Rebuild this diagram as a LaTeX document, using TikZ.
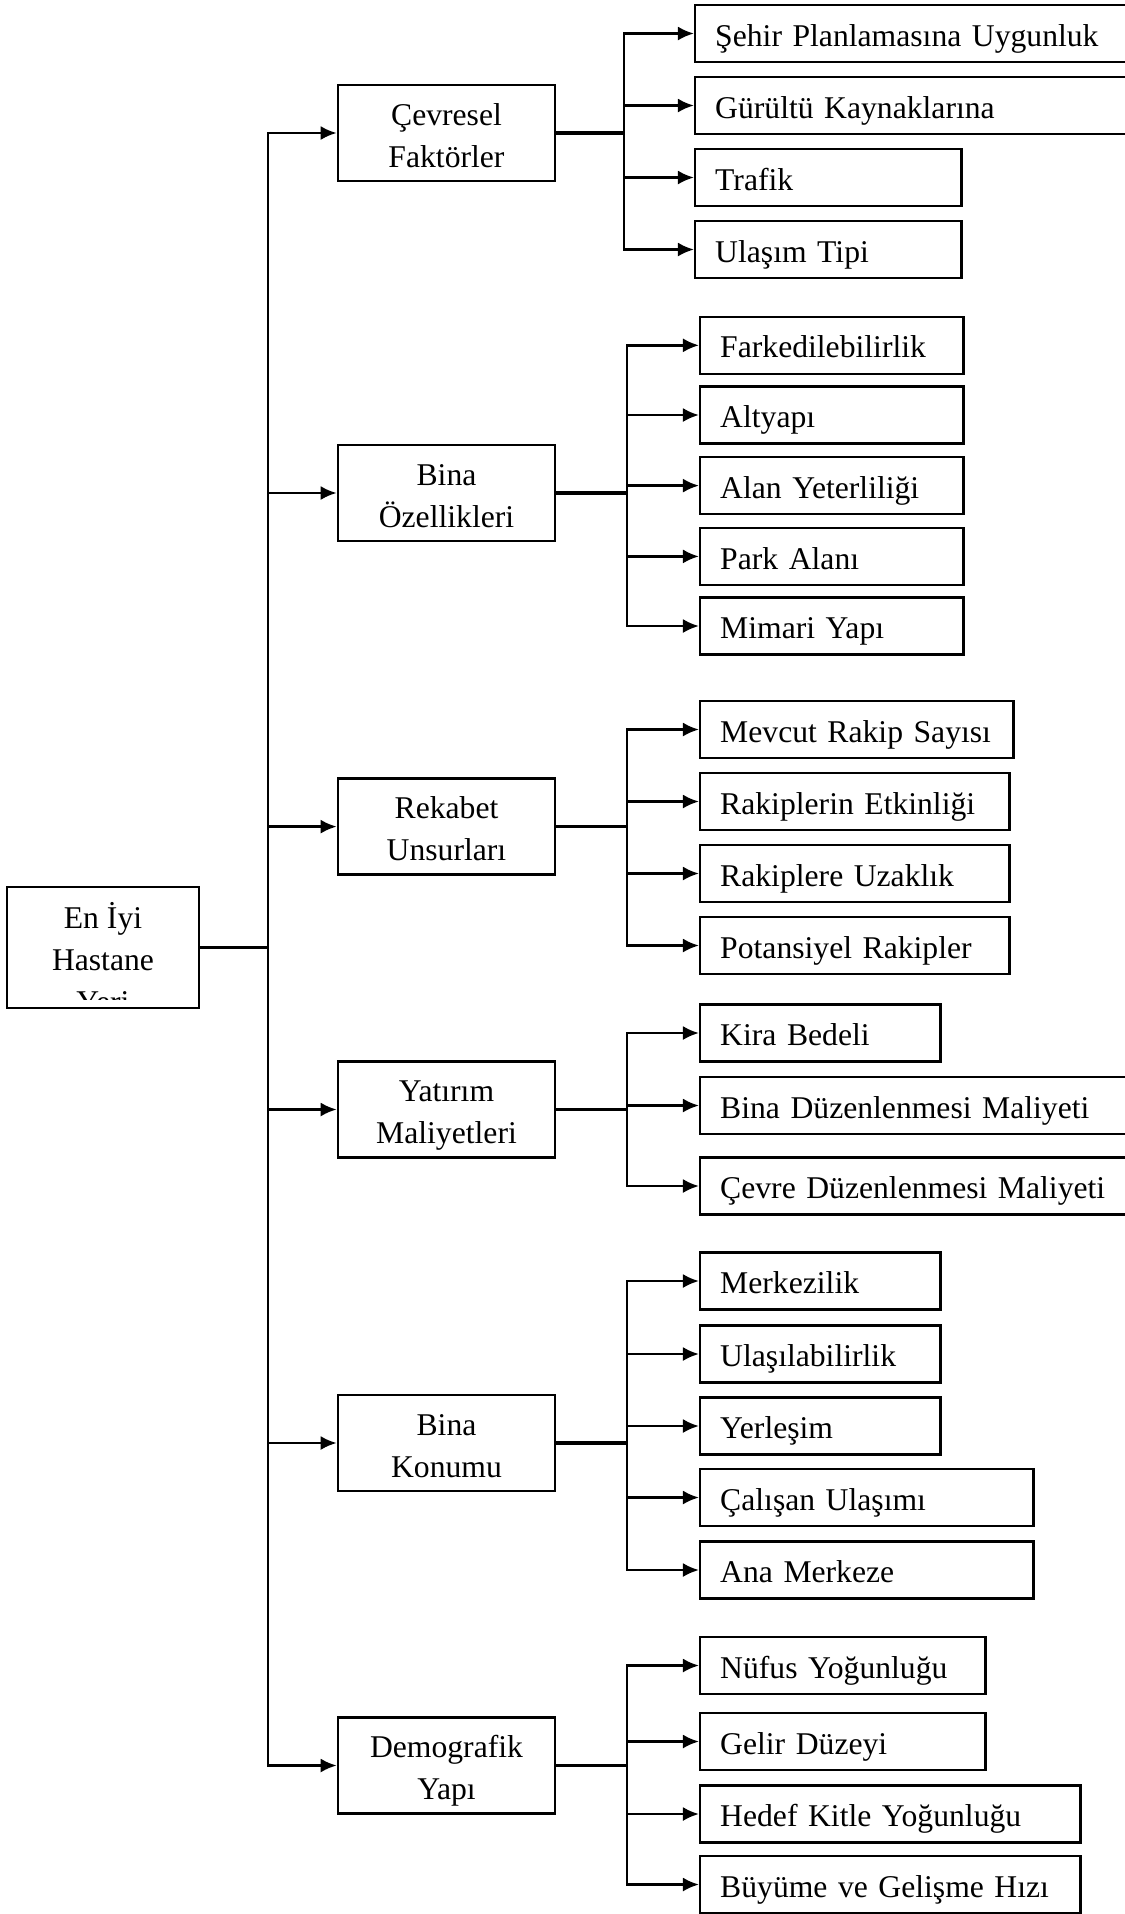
\documentclass[tikz,border=0pt]{standalone}
\usepackage{fontspec}
\setmainfont{Liberation Serif}
\usetikzlibrary{arrows.meta}

\begin{document}
\begin{tikzpicture}[x=0.01cm, y=-0.01cm,
	font=\fontsize{9pt}{11.95pt}\selectfont,
	box/.style={draw, line width=0.7pt},
	factor/.style={box, minimum width=2.17cm, minimum height=0.96cm, align=center, inner sep=0pt, text height=0.68cm, text depth=0pt},
	leaf/.style={box, anchor=west, minimum height=0.57cm, inner xsep=0.2cm, inner ysep=0pt, align=left, text height=0.8em, text depth=0.08em},
	bus/.style={line width=0.75pt, line cap=rect},
	arr/.style={line width=0.75pt, -{Latex[length=1.6mm, width=1.4mm]}}]
	\useasboundingbox (0, 0) rectangle (1125, 1914);

	% root, its third line is cut by the box
	\node (root) [box, minimum width=1.92cm, minimum height=1.21cm] at (103, 947.5) {};
	\begin{scope}
		\clip ([yshift=0.1cm]root.south west) rectangle (root.north east);
		\node (roottext) [anchor=base, inner sep=0pt] at (103, 928) {\begin{tabular}[t]{@{}c@{}}En İyi\\Hastane\\Yeri\end{tabular}};
	\end{scope}

	% factors
	\node (cevresel) [factor] at (446.5, 133) {Çevresel\\Faktörler};
	\node (binaoz) [factor] at (446.5, 493) {Bina\\Özellikleri};
	\node (rekabet) [factor] at (446.5, 826.6) {Rekabet\\Unsurları};
	\node (yatirim) [factor] at (446.5, 1109.5) {Yatırım\\Maliyetleri};
	\node (binakon) [factor] at (446.5, 1443) {Bina\\Konumu};
	\node (demografik) [factor] at (446.5, 1765.5) {Demografik\\Yapı};

	% sub factors
	\node (sehir) [leaf, text width=4.06cm] at (694, 33.5) {Şehir Planlamasına Uygunluk};
	\node (gurultu) [leaf, text width=4.06cm] at (694, 105.5) {Gürültü Kaynaklarına};
	\node (trafik) [leaf, text width=2.26cm] at (694, 177.5) {Trafik};
	\node (ulasimtipi) [leaf, text width=2.26cm] at (694, 249.5) {Ulaşım Tipi};

	\node (fark) [leaf, text width=2.23cm] at (699, 345.3) {Farkedilebilirlik};
	\node (altyapi) [leaf, text width=2.23cm] at (699, 415) {Altyapı};
	\node (alan) [leaf, text width=2.23cm] at (699, 485.6) {Alan Yeterliliği};
	\node (park) [leaf, text width=2.23cm] at (699, 556.4) {Park Alanı};
	\node (mimari) [leaf, text width=2.23cm] at (699, 626) {Mimari Yapı};

	\node (mevcut) [leaf, text width=2.73cm] at (699, 729.5) {Mevcut~Rakip~Sayısı};
	\node (etkinlik) [leaf, text width=2.69cm] at (699, 801.5) {Rakiplerin Etkinliği};
	\node (uzaklik) [leaf, text width=2.69cm] at (699, 873.5) {Rakiplere Uzaklık};
	\node (potansiyel) [leaf, text width=2.69cm] at (699, 945.5) {Potansiyel Rakipler};

	\node (kira) [leaf, text width=2.00cm] at (699, 1033) {Kira Bedeli};
	\node (binaduz) [leaf, text width=4.01cm] at (699, 1105.5) {Bina Düzenlenmesi Maliyeti};
	\node (cevreduz) [leaf, text width=4.01cm] at (699, 1186) {Çevre Düzenlenmesi Maliyeti};

	\node (merkezilik) [leaf, text width=2.00cm] at (699, 1281) {Merkezilik};
	\node (ulasilabilir) [leaf, text width=2.00cm] at (699, 1354) {Ulaşılabilirlik};
	\node (yerlesim) [leaf, text width=2.00cm] at (699, 1426) {Yerleşim};
	\node (calisan) [leaf, text width=2.93cm] at (699, 1497.5) {Çalışan Ulaşımı};
	\node (anamerkez) [leaf, text width=2.93cm] at (699, 1570) {Ana Merkeze};

	\node (nufus) [leaf, text width=2.45cm] at (699, 1665.5) {Nüfus Yoğunluğu};
	\node (gelir) [leaf, text width=2.45cm] at (699, 1741.5) {Gelir Düzeyi};
	\node (hedef) [leaf, text width=3.40cm] at (699, 1814) {Hedef Kitle Yoğunluğu};
	\node (buyume) [leaf, text width=3.40cm] at (699, 1884.5) {Büyüme ve Gelişme Hızı};

	% root to factors
	\coordinate (mainbus) at (268, 947.5);
	\draw[bus] (root.east) -- (mainbus);
	\draw[bus] (mainbus |- cevresel.west) -- (mainbus |- demografik.west);
	\draw[arr] (mainbus |- cevresel.west) -- (cevresel.west);
	\draw[arr] (mainbus |- binaoz.west) -- (binaoz.west);
	\draw[arr] (mainbus |- rekabet.west) -- (rekabet.west);
	\draw[arr] (mainbus |- yatirim.west) -- (yatirim.west);
	\draw[arr] (mainbus |- binakon.west) -- (binakon.west);
	\draw[arr] (mainbus |- demografik.west) -- (demografik.west);

	% factors to sub factors
	\coordinate (cbus) at (624, 133);
	\draw[line width=1pt] (cevresel.east) -- (cbus);
	\draw[bus] (cbus |- sehir.west) -- (cbus |- ulasimtipi.west);
	\draw[arr] (cbus |- sehir.west) -- (sehir.west);
	\draw[arr] (cbus |- gurultu.west) -- (gurultu.west);
	\draw[arr] (cbus |- trafik.west) -- (trafik.west);
	\draw[arr] (cbus |- ulasimtipi.west) -- (ulasimtipi.west);

	\coordinate (obus) at (627, 493);
	\draw[line width=1pt] (binaoz.east) -- (obus);
	\draw[bus] (obus |- fark.west) -- (obus |- mimari.west);
	\draw[arr] (obus |- fark.west) -- (fark.west);
	\draw[arr] (obus |- altyapi.west) -- (altyapi.west);
	\draw[arr] (obus |- alan.west) -- (alan.west);
	\draw[arr] (obus |- park.west) -- (park.west);
	\draw[arr] (obus |- mimari.west) -- (mimari.west);

	\coordinate (rbus) at (627, 826.6);
	\draw[line width=1pt] (rekabet.east) -- (rbus);
	\draw[bus] (rbus |- mevcut.west) -- (rbus |- potansiyel.west);
	\draw[arr] (rbus |- mevcut.west) -- (mevcut.west);
	\draw[arr] (rbus |- etkinlik.west) -- (etkinlik.west);
	\draw[arr] (rbus |- uzaklik.west) -- (uzaklik.west);
	\draw[arr] (rbus |- potansiyel.west) -- (potansiyel.west);

	\coordinate (ybus) at (627, 1109.5);
	\draw[line width=1pt] (yatirim.east) -- (ybus);
	\draw[bus] (ybus |- kira.west) -- (ybus |- cevreduz.west);
	\draw[arr] (ybus |- kira.west) -- (kira.west);
	\draw[arr] (ybus |- binaduz.west) -- (binaduz.west);
	\draw[arr] (ybus |- cevreduz.west) -- (cevreduz.west);

	\coordinate (kbus) at (627, 1443);
	\draw[line width=1pt] (binakon.east) -- (kbus);
	\draw[bus] (kbus |- merkezilik.west) -- (kbus |- anamerkez.west);
	\draw[arr] (kbus |- merkezilik.west) -- (merkezilik.west);
	\draw[arr] (kbus |- ulasilabilir.west) -- (ulasilabilir.west);
	\draw[arr] (kbus |- yerlesim.west) -- (yerlesim.west);
	\draw[arr] (kbus |- calisan.west) -- (calisan.west);
	\draw[arr] (kbus |- anamerkez.west) -- (anamerkez.west);

	\coordinate (dbus) at (627, 1765.5);
	\draw[line width=1pt] (demografik.east) -- (dbus);
	\draw[bus] (dbus |- nufus.west) -- (dbus |- buyume.west);
	\draw[arr] (dbus |- nufus.west) -- (nufus.west);
	\draw[arr] (dbus |- gelir.west) -- (gelir.west);
	\draw[arr] (dbus |- hedef.west) -- (hedef.west);
	\draw[arr] (dbus |- buyume.west) -- (buyume.west);
\end{tikzpicture}
\end{document}
